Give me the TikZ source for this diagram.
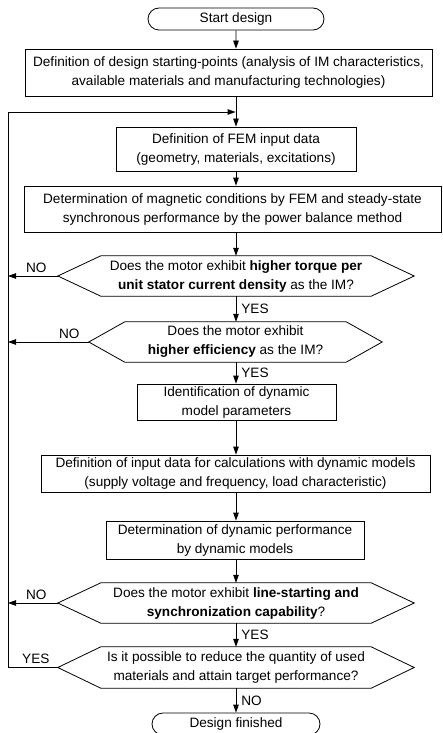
\documentclass[tikz,border=0pt]{standalone}
\usepackage{fontspec}
\setmainfont{Liberation Sans}
\usetikzlibrary{shapes.misc,arrows.meta}
\begin{document}
\begin{tikzpicture}[x=1pt,y=-1pt,
  every node/.style={font=\fontsize{13.6}{19}\selectfont, inner sep=0pt},
  procbox/.style={draw, line width=0.8pt, align=center},
  termbox/.style={draw, line width=0.8pt, rounded rectangle, align=center},
  decbox/.style={align=center},
  arr/.style={line width=0.8pt, -{Triangle[length=8pt,width=5.5pt]}},
  ln/.style={line width=0.8pt},
  lbl/.style={font=\fontsize{13.6}{15}\selectfont}
]
\useasboundingbox (0,0) rectangle (442,733);

\node[termbox, minimum width=176, minimum height=22] (start) at (236,19) {Start design};
\node[procbox, minimum width=407, minimum height=47] (b1) at (228.5,72.5)
  {Definition of design starting-points (analysis of IM characteristics,\\available materials and manufacturing technologies)};
\node[procbox, minimum width=240, minimum height=44] (b2) at (236,149)
  {Definition of FEM input data\\(geometry, materials, excitations)};
\node[procbox, minimum width=417, minimum height=46] (b3) at (232.5,209)
  {Determination of magnetic conditions by FEM and steady-state\\synchronous performance by the power balance method};
\node[decbox, minimum width=356, minimum height=40] (d1) at (236,276)
  {Does the motor exhibit \textbf{higher torque per}\\\textbf{unit stator current density} as the IM?};
\node[decbox, minimum width=293, minimum height=40] (d2) at (235.5,342)
  {Does the motor exhibit\\\textbf{higher efficiency} as the IM?};
\node[procbox, minimum width=199, minimum height=36] (b4) at (236.5,402)
  {Identification of dynamic\\model parameters};
\node[procbox, minimum width=389, minimum height=37] (b5) at (235.5,473.5)
  {Definition of input data for calculations with dynamic models\\(supply voltage and frequency, load characteristic)};
\node[procbox, minimum width=258, minimum height=38] (b6) at (235,540)
  {Determination of dynamic performance\\by dynamic models};
\node[decbox, minimum width=356, minimum height=40] (d3) at (236,603)
  {Does the motor exhibit \textbf{line-starting and}\\\textbf{synchronization capability}?};
\node[decbox, minimum width=356, minimum height=41] (d4) at (236,667.5)
  {Is it possible to reduce the quantity of used\\materials and attain target performance?};
\node[termbox, minimum width=168, minimum height=22] (end) at (236,724) {Design finished};

% hexagon outlines
\foreach \n/\s in {d1/43,d2/36,d3/43,d4/43}
  \draw[ln] (\n.west) -- ([xshift=\s]\n.north west) -- ([xshift=-\s]\n.north east)
    -- (\n.east) -- ([xshift=-\s]\n.south east) -- ([xshift=\s]\n.south west) -- cycle;

\coordinate (lp) at (8,112);

% main flow
\draw[arr] (start) -- (start |- b1.north);
\draw[ln] (start |- b1.south) -- (start |- lp);
\draw[arr] (start |- lp) -- (b2.north);
\draw[arr] (b2) -- (b2 |- b3.north);
\draw[arr] (b2 |- b3.south) -- (b2 |- d1.north);
\draw[arr] (b2 |- d1.south) -- (b2 |- d2.north)
  node[lbl, midway, anchor=west, xshift=5pt] {YES};
\draw[arr] (b2 |- d2.south) -- (b2 |- b4.north)
  node[lbl, midway, anchor=west, xshift=5pt] {YES};
\draw[arr] (b2 |- b4.south) -- (b2 |- b5.north);
\draw[arr] (b2 |- b5.south) -- (b2 |- b6.north);
\draw[arr] (b2 |- b6.south) -- (b2 |- d3.north);
\draw[arr] (b2 |- d3.south) -- (b2 |- d4.north)
  node[lbl, midway, anchor=west, xshift=5pt] {YES};
\draw[arr] (b2 |- d4.south) -- (b2 |- end.north)
  node[lbl, midway, anchor=west, xshift=5pt] {NO};

% NO branches and loop
\draw[arr] (d1.west) -- (d1.west -| lp)
  node[lbl, pos=0, anchor=south east, xshift=-11pt, yshift=3pt] {NO};
\draw[arr] (d2.west) -- (d2.west -| lp)
  node[lbl, pos=0, anchor=south east, xshift=-9pt, yshift=3pt] {NO};
\draw[arr] (d3.west) -- (d3.west -| lp)
  node[lbl, pos=0, anchor=south east, xshift=-11pt, yshift=3pt] {NO};
\draw[arr] (d4.west) -- (d4.west -| lp)
  node[lbl, pos=0, anchor=south east, xshift=-8pt, yshift=3pt] {YES}
  -- (lp) -- ([xshift=-0.4pt]start |- lp);
\end{tikzpicture}
\end{document}
